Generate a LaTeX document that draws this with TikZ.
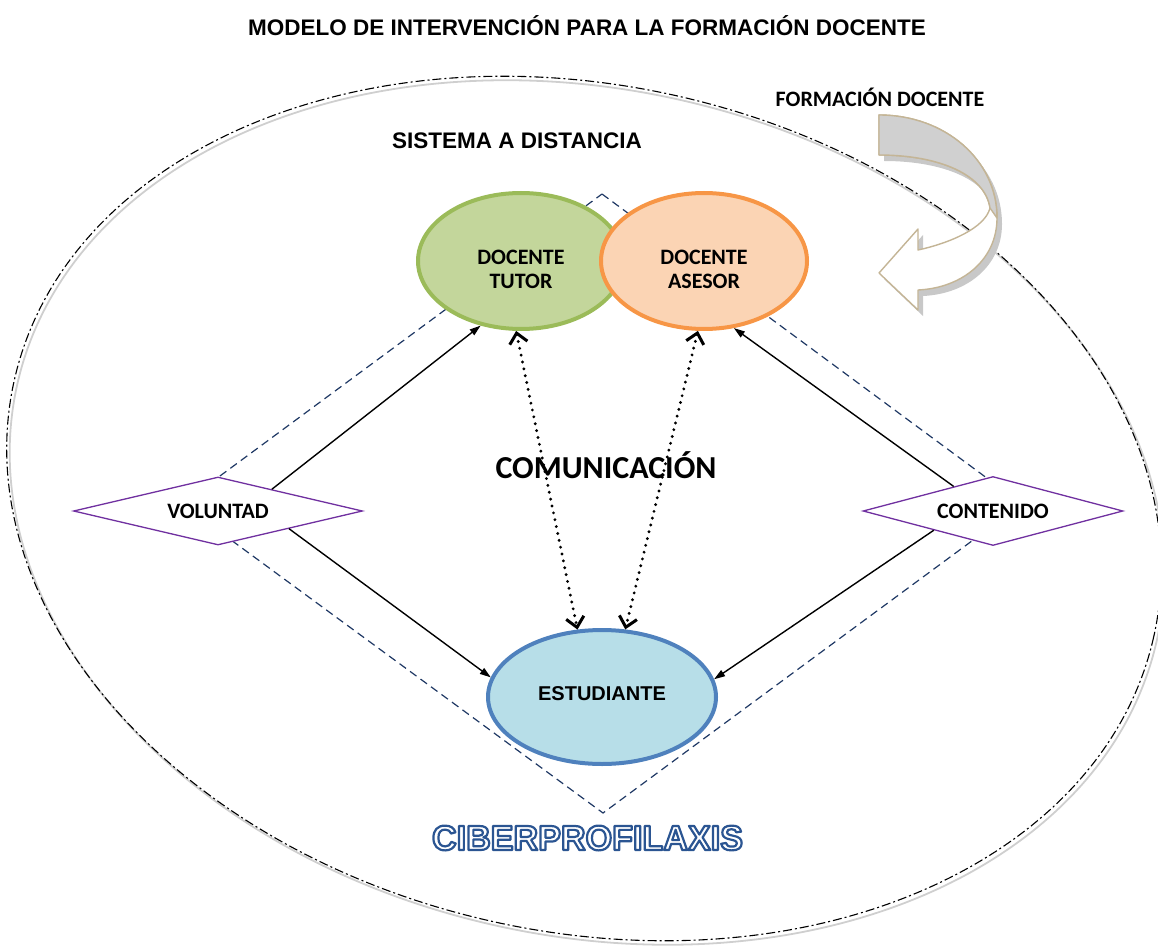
\documentclass[tikz,border=0pt]{standalone}
\usepackage{fontspec}
\setmainfont{Liberation Sans}
\newfontfamily\calib{Carlito}
\newfontfamily\cibfont[FakeStretch=0.975]{Liberation Sans}
\usetikzlibrary{shapes.geometric,arrows.meta,calc}
\definecolor{tutfill}{HTML}{C3D69B}
\definecolor{tutline}{HTML}{9BBB59}
\definecolor{asefill}{HTML}{FBD4B4}
\definecolor{aseline}{HTML}{F79646}
\definecolor{stufill}{HTML}{B7DEE8}
\definecolor{stuline}{HTML}{4F81BD}
\definecolor{purp}{HTML}{7030A0}
\definecolor{navy}{HTML}{1F3864}
\definecolor{tanline}{HTML}{C4B596}
\definecolor{bandgray}{HTML}{D0D0D0}
\definecolor{shadowgray}{HTML}{C8C8C8}
\definecolor{ringgray}{HTML}{CFCFCF}
\begin{document}
\begin{tikzpicture}[x=1pt,y=-1pt,
  arialb/.style={font=\bfseries\fontsize{22.5}{26}\selectfont},
  calb/.style={font=\calib\bfseries\fontsize{22}{24}\selectfont, align=center},
  ell/.style={ellipse, draw, line width=4pt, inner sep=0pt, minimum width=206pt, minimum height=136pt},
  dia/.style={diamond, draw=purp, fill=white, line width=1.3pt, inner sep=0pt, font=\calib\bfseries\fontsize{22}{24}\selectfont},
  solidarrow/.style={line width=1.4pt, -{Triangle[length=11pt,width=7pt]}},
  dotarrow/.style={line width=3.2pt, line cap=round, dash pattern=on 0pt off 7pt,
     {Straight Barb[length=10pt,width=18pt,line width=3pt]}-{Straight Barb[length=10pt,width=18pt,line width=3pt]}}
]
\useasboundingbox (0,0) rectangle (1158,949);

% outer system ellipse (grey solid and black dashed), slightly tilted
\draw[ringgray, line width=1.8pt, rotate around={-12.7:(587,512.5)}] (587,512.5) ellipse [x radius=584, y radius=423];
\draw[black, line width=1.1pt, dash pattern=on 9pt off 3pt on 2pt off 3pt, rotate around={-12.7:(584,508.5)}] (584,508.5) ellipse [x radius=584, y radius=423];

% titles
\node[arialb] (title) at (587,26) {MODELO DE INTERVENCIÓN PARA LA FORMACIÓN DOCENTE};
\node[arialb] (sistema) at (517,141) {SISTEMA A DISTANCIA};
\node[calb] (formacion) at (880,97) {FORMACIÓN DOCENTE};

% dashed blue diamond
\draw[navy, line width=1.2pt, dash pattern=on 8pt off 5pt] (602,194) -- (1022,504) -- (603,813) -- (182,504) -- cycle;

% curved arrow: shadow
\fill[shadowgray] (884,121) .. controls (950,121) and (1002,166) .. (1002,224)
   .. controls (1002,266) and (967,294) .. (923,296) -- (923,316) -- (884,279) -- (923,235) -- (923,256)
   .. controls (955,249) and (990,234) .. (995,214)
   .. controls (990,181) and (945,161) .. (884,161) -- cycle;
% curved arrow: body
\draw[tanline, fill=white, line width=1.4pt, line join=round] (879,115) .. controls (945,115) and (997,160) .. (997,218)
   .. controls (997,260) and (962,288) .. (918,290) -- (918,310) -- (879,273) -- (918,229) -- (918,250)
   .. controls (950,243) and (985,228) .. (990,208)
   .. controls (985,175) and (940,155) .. (879,155) -- cycle;
% curved arrow: grey back side of the band
\draw[tanline, fill=bandgray, line width=1.4pt, line join=round] (879,115) .. controls (945,115) and (997,160) .. (997,218)
   -- (990,208)
   .. controls (985,175) and (940,155) .. (879,155) -- cycle;

% nodes
\node[ell, draw=tutline, fill=tutfill] (tutor) at (521,261) {};
\node[ell, draw=aseline, fill=asefill] (asesor) at (704,261) {};
\node[ell, draw=stuline, fill=stufill, minimum width=228pt, minimum height=134pt] (stud) at (602,697) {};
\node[calb] (tuttxt) at ([yshift=-8pt]tutor.center) {DOCENTE\\TUTOR};
\node[calb] (asetxt) at ([yshift=-8pt]asesor.center) {DOCENTE\\ASESOR};
\node[font=\bfseries\fontsize{20}{24}\selectfont] (studtxt) at ([yshift=3pt]stud.center) {ESTUDIANTE};

\node[dia, shape aspect=4.25, minimum width=289pt, minimum height=68pt] (vol) at (218,511) {VOLUNTAD};
\node[dia, shape aspect=3.77, minimum width=260pt, minimum height=69pt] (cont) at (993,511) {CONTENIDO};

% solid arrows
\draw[solidarrow] (vol.22) -- (tutor.238);
\draw[solidarrow] (vol.-14) -- (stud.170);
\draw[solidarrow] (cont.148.6) -- (asesor.294.5);
\draw[solidarrow] (cont.198) -- (stud.9.7);

% dotted double arrows
\draw[dotarrow] (tutor.266) -- (stud.110.4);
\draw[dotarrow] (asesor.265) -- (stud.71.8);

% communication label
\node[font=\calib\bfseries\fontsize{32}{36}\selectfont] (comu) at (606,465) {COMUNICACIÓN};

% ciberprofilaxis (outlined lettering)
\node[inner sep=0pt, text=white] (ciber) at (587.5,838) {\special{pdf:literal direct 2 Tr 2.2 w 1 j 0.169 0.333 0.573 RG}\cibfont\bfseries\fontsize{35}{38}\selectfont CIBERPROFILAXIS\special{pdf:literal direct 0 Tr}};
\end{tikzpicture}
\end{document}
